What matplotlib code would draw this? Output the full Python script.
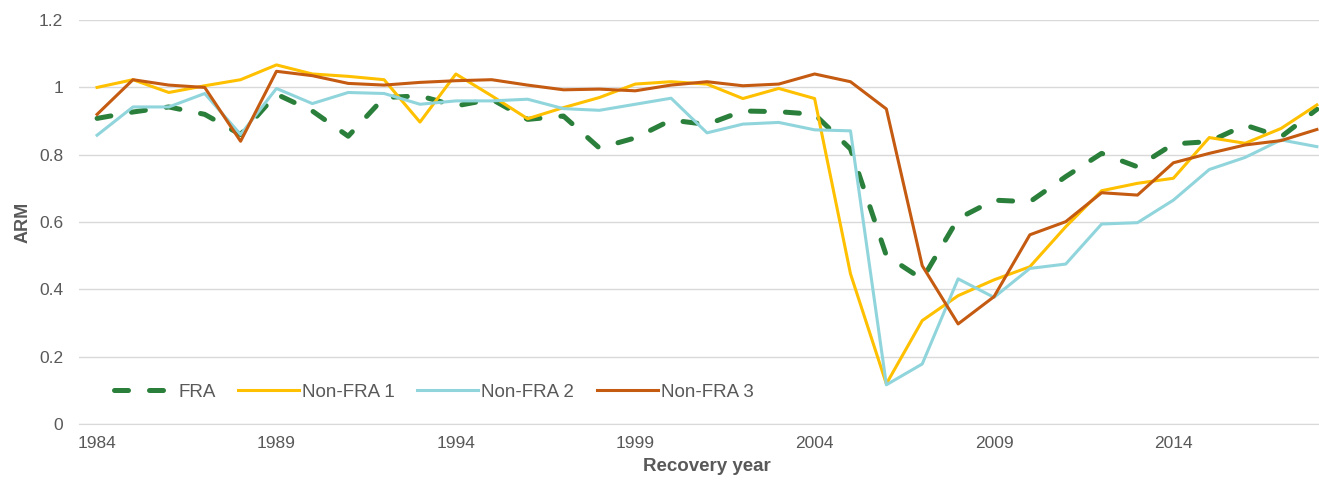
import matplotlib
matplotlib.use("Agg")
import matplotlib.pyplot as plt

plt.rcParams['font.family'] = ['Liberation Sans', 'DejaVu Sans']

years = list(range(1984, 2019))

fra = [0.908, 0.927, 0.942, 0.92, 0.86, 0.98, 0.93, 0.855, 0.97,
       0.975, 0.945, 0.965, 0.905, 0.915, 0.82, 0.85, 0.903, 0.89,
       0.93, 0.928, 0.92, 0.817, 0.5, 0.43, 0.61, 0.665, 0.66,
       0.735, 0.804, 0.764, 0.832, 0.839, 0.888, 0.853, 0.935]
non_fra_1 = [1.0, 1.023, 0.985, 1.005, 1.023, 1.067, 1.04, 1.033, 1.023,
             0.897, 1.04, 0.975, 0.907, 0.94, 0.97, 1.01, 1.017, 1.01,
             0.967, 0.997, 0.967, 0.446, 0.119, 0.307, 0.381, 0.428, 0.467,
             0.586, 0.693, 0.715, 0.73, 0.851, 0.834, 0.878, 0.948]
non_fra_2 = [0.858, 0.942, 0.942, 0.982, 0.86, 0.997, 0.952, 0.985, 0.982,
             0.95, 0.96, 0.96, 0.965, 0.937, 0.932, 0.95, 0.968, 0.865,
             0.891, 0.896, 0.874, 0.871, 0.116, 0.178, 0.431, 0.376, 0.462,
             0.475, 0.594, 0.598, 0.665, 0.756, 0.792, 0.844, 0.824]
non_fra_3 = [0.92, 1.023, 1.007, 1.0, 0.84, 1.048, 1.035, 1.012, 1.007,
             1.015, 1.02, 1.023, 1.007, 0.993, 0.995, 0.99, 1.007, 1.017,
             1.005, 1.01, 1.04, 1.017, 0.936, 0.47, 0.297, 0.378, 0.562,
             0.601, 0.687, 0.68, 0.776, 0.804, 0.829, 0.842, 0.875]

xticks = [1984, 1989, 1994, 1999, 2004, 2009, 2014]
yticks = [0, 0.2, 0.4, 0.6, 0.8, 1, 1.2]
ytick_labels = ['0', '0.2', '0.4', '0.6', '0.8', '1', '1.2']

fig = plt.figure(figsize=(13.19, 4.8), dpi=100)
# plot area runs a bit past the right edge, as in the cropped original
ax = fig.add_axes([0.06, 0.117, 1.012 - 0.06, 0.958 - 0.117])

ax.plot(years, fra, color='#2a7f3b', lw=3.6, dashes=(2.8, 4.2),
        dash_capstyle='round', label='FRA', zorder=3)
ax.plot(years, non_fra_1, color='#ffc000', lw=2.2, label='Non-FRA 1', zorder=3)
ax.plot(years, non_fra_2, color='#90d5dc', lw=2.2, label='Non-FRA 2', zorder=3)
ax.plot(years, non_fra_3, color='#c55a11', lw=2.2, label='Non-FRA 3', zorder=3)

ax.set_xlim(1983.5, 2018.5)
ax.set_ylim(0, 1.2)
ax.set_xticks(xticks)
ax.set_yticks(yticks)
ax.set_yticklabels(ytick_labels)
ax.tick_params(axis='both', length=0, colors='#595959', labelsize=12.5)
ax.tick_params(axis='x', pad=9)
ax.tick_params(axis='y', pad=11.5)
ax.grid(axis='y', color='#d9d9d9', lw=1)
ax.set_axisbelow(True)
for s in ['top', 'right', 'left']:
    ax.spines[s].set_visible(False)
ax.spines['bottom'].set_color('#d9d9d9')

ax.set_xlabel('Recovery year', fontsize=13.5, fontweight='bold', color='#595959', labelpad=5)
ax.set_ylabel('ARM', fontsize=13, fontweight='bold', color='#595959', labelpad=5)

ax.legend(loc='center left', bbox_to_anchor=(0.022, 0.078), ncol=4, frameon=False,
          fontsize=13.5, handlelength=3.25, handletextpad=0.16, columnspacing=1.2,
          labelcolor='#595959', borderaxespad=0)

fig.savefig('out.png', dpi=100)
